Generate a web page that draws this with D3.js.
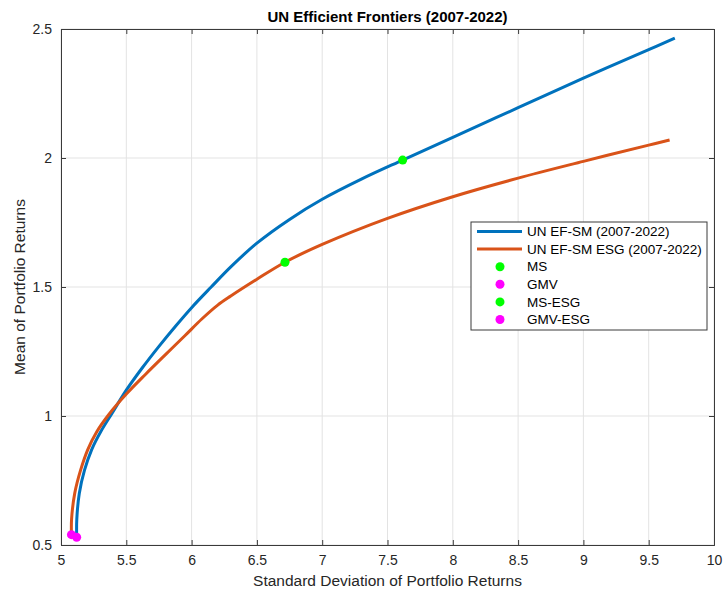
<!DOCTYPE html>
<html>
<head>
<meta charset="utf-8">
<title>UN Efficient Frontiers</title>
<style>
	body { margin: 0; background: #fff; font-family: "Liberation Sans", Arial, sans-serif; }
	.grid line { stroke: #e3e3e3; stroke-width: 1; }
	.axis path { stroke: #3a3a3a; }
	.axis line { stroke: #3a3a3a; }
	.axis text { font-size: 14px; fill: #262626; font-family: "Liberation Sans", Arial, sans-serif; }
</style>
</head>
<body>
<div id="chart"></div>
<script src="https://cdnjs.cloudflare.com/ajax/libs/d3/7.8.5/d3.min.js"></script>
<script>
	// blue frontier (UN EF-SM)
	var efStd = [5.12, 5.121, 5.14, 5.18, 5.235, 5.305, 5.39, 5.5, 5.62, 5.75, 5.88, 6.0, 6.15, 6.3, 6.5, 6.75, 7.0, 7.3, 7.616, 8.0, 8.5, 9.0, 9.5, 9.7];
	var efMean = [0.53, 0.6, 0.7, 0.79, 0.87, 0.94, 1.01, 1.1, 1.185, 1.27, 1.35, 1.42, 1.5, 1.578, 1.67, 1.762, 1.84, 1.918, 1.992, 2.08, 2.195, 2.31, 2.42, 2.465];
	// orange frontier (UN EF-SM ESG)
	var esgStd = [5.08, 5.081, 5.105, 5.15, 5.205, 5.275, 5.365, 5.5, 5.65, 5.8, 5.95, 6.08, 6.2, 6.3, 6.5, 6.715, 7.0, 7.5, 8.0, 8.5, 9.0, 9.5, 9.66];
	var esgMean = [0.54, 0.6, 0.7, 0.79, 0.87, 0.94, 1.005, 1.085, 1.163, 1.238, 1.312, 1.377, 1.43, 1.465, 1.53, 1.596, 1.665, 1.766, 1.85, 1.922, 1.987, 2.05, 2.07];
	// special portfolios
	var pointNames = ["MS", "GMV", "MS-ESG", "GMV-ESG"];
	var pointStd = [7.616, 5.12, 6.715, 5.08];
	var pointMean = [1.992, 0.53, 1.596, 0.54];
	var seriesNames = ["UN EF-SM (2007-2022)", "UN EF-SM ESG (2007-2022)"];
	var xTicks = [5, 5.5, 6, 6.5, 7, 7.5, 8, 8.5, 9, 9.5, 10];
	var yTicks = [0.5, 1, 1.5, 2, 2.5];

	var blue = "#0072BD", orange = "#D95319", green = "#00FF00", magenta = "#FF00FF";
	var pointColors = [green, magenta, green, magenta];

	var W = 723, H = 592;
	var m = { left: 61, right: 9, top: 29, bottom: 47 };
	var w = W - m.left - m.right, h = H - m.top - m.bottom;

	var svg = d3.select("#chart").append("svg").attr("width", W).attr("height", H);
	var g = svg.append("g").attr("transform", "translate(" + m.left + "," + m.top + ")");

	var x = d3.scaleLinear().domain([5, 10]).range([0, w]);
	var y = d3.scaleLinear().domain([0.5, 2.5]).range([h, 0]);

	// grid
	var grid = g.append("g").attr("class", "grid");
	grid.selectAll(".gx").data(xTicks).enter().append("line")
		.attr("x1", function(d) { return x(d); }).attr("x2", function(d) { return x(d); })
		.attr("y1", 0).attr("y2", h);
	grid.selectAll(".gy").data(yTicks).enter().append("line")
		.attr("y1", function(d) { return y(d); }).attr("y2", function(d) { return y(d); })
		.attr("x1", 0).attr("x2", w);

	// axes with inward ticks on all four sides
	g.append("g").attr("class", "axis").attr("transform", "translate(0," + h + ")")
		.call(d3.axisBottom(x).tickValues(xTicks).tickSize(-5).tickPadding(10).tickFormat(d3.format("")));
	g.append("g").attr("class", "axis")
		.call(d3.axisTop(x).tickValues(xTicks).tickSize(-5).tickFormat(""));
	g.append("g").attr("class", "axis")
		.call(d3.axisLeft(y).tickValues(yTicks).tickSize(-5).tickPadding(9).tickFormat(d3.format("")));
	g.append("g").attr("class", "axis").attr("transform", "translate(" + w + ",0)")
		.call(d3.axisRight(y).tickValues(yTicks).tickSize(-5).tickFormat(""));

	var line = d3.line()
		.x(function(d) { return x(d[0]); })
		.y(function(d) { return y(d[1]); })
		.curve(d3.curveCatmullRom.alpha(0.5));

	g.append("path").datum(d3.zip(efStd, efMean))
		.attr("d", line).attr("fill", "none").attr("stroke", blue).attr("stroke-width", 3);
	g.append("path").datum(d3.zip(esgStd, esgMean))
		.attr("d", line).attr("fill", "none").attr("stroke", orange).attr("stroke-width", 3);

	g.selectAll(".pt").data(d3.range(pointNames.length)).enter().append("circle")
		.attr("cx", function(i) { return x(pointStd[i]); })
		.attr("cy", function(i) { return y(pointMean[i]); })
		.attr("r", 4.5)
		.attr("fill", function(i) { return pointColors[i]; });

	// title and labels
	svg.append("text").attr("x", m.left + w / 2).attr("y", 22).attr("text-anchor", "middle")
		.style("font-size", "15px").style("font-weight", "bold").attr("fill", "#000")
		.text("UN Efficient Frontiers (2007-2022)");
	svg.append("text").attr("x", m.left + w / 2).attr("y", 586).attr("text-anchor", "middle")
		.style("font-size", "15.5px").attr("fill", "#262626")
		.text("Standard Deviation of Portfolio Returns");
	svg.append("text").attr("transform", "translate(25," + (m.top + h / 2) + ") rotate(-90)")
		.attr("text-anchor", "middle").style("font-size", "15.5px").attr("fill", "#262626")
		.text("Mean of Portfolio Returns");

	// legend
	var lg = svg.append("g").attr("transform", "translate(471,222)");
	lg.append("rect").attr("width", 236).attr("height", 108)
		.attr("fill", "#fff").attr("stroke", "#3a3a3a").attr("stroke-width", 1);
	var entries = [
		{ name: seriesNames[0], type: "line", color: blue },
		{ name: seriesNames[1], type: "line", color: orange }
	];
	pointNames.forEach(function(n, i) { entries.push({ name: n, type: "dot", color: pointColors[i] }); });
	var ent = lg.selectAll(".ent").data(entries).enter().append("g")
		.attr("transform", function(d, i) { return "translate(0," + (9.5 + i * 17.6) + ")"; });
	ent.filter(function(d) { return d.type === "line"; }).append("line")
		.attr("x1", 6).attr("x2", 51).attr("stroke-width", 3)
		.attr("stroke", function(d) { return d.color; });
	ent.filter(function(d) { return d.type === "dot"; }).append("circle")
		.attr("cx", 29).attr("r", 4.5).attr("fill", function(d) { return d.color; });
	ent.append("text").attr("x", 56).attr("dy", "0.35em")
		.style("font-size", "13.5px").attr("fill", "#000")
		.text(function(d) { return d.name; });
</script>
</body>
</html>
